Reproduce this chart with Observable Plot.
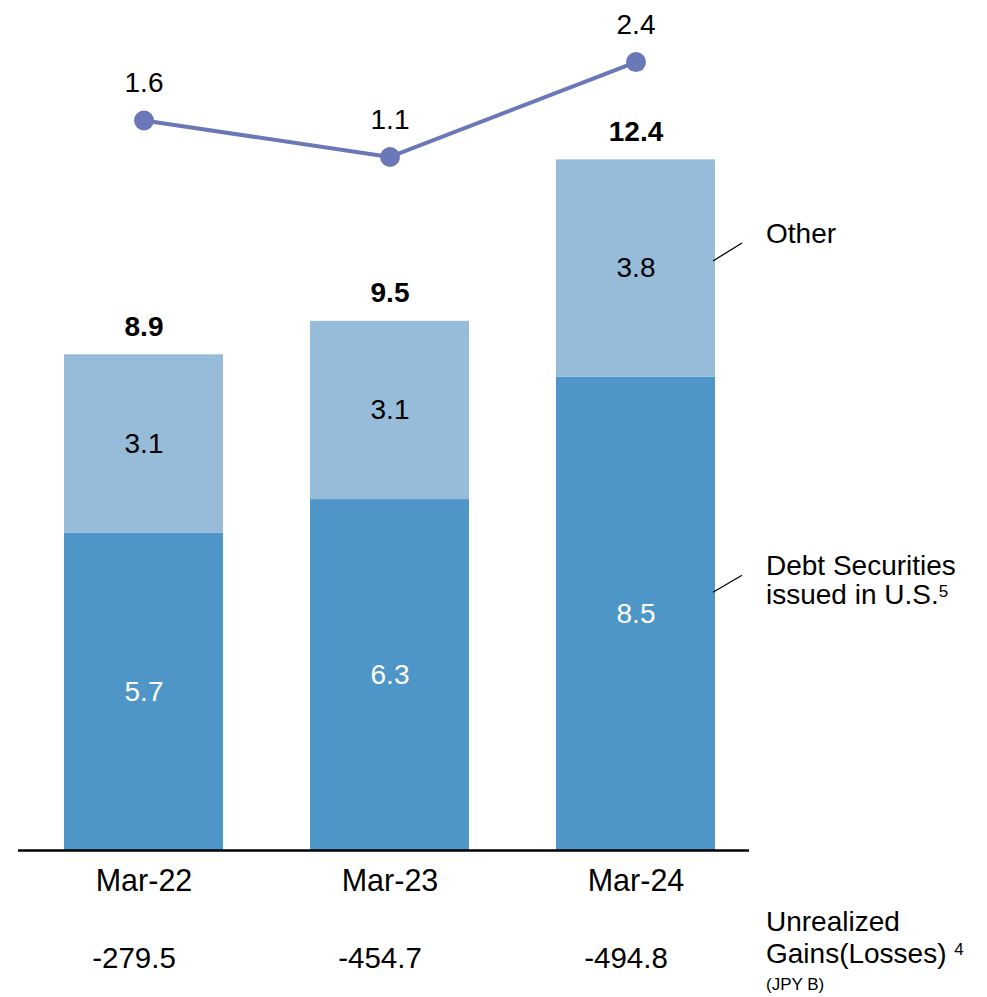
<!DOCTYPE html>
<html><head><meta charset="utf-8">
<script src="https://cdn.jsdelivr.net/npm/d3@7"></script>
<script src="https://cdn.jsdelivr.net/npm/@observablehq/plot@0.6"></script>
<style>
body{margin:0;background:#fff}
svg{font-family:"Liberation Sans",Arial,sans-serif}
</style>
</head><body><div id="chart"></div>
<script>
const periods = ["Mar-22", "Mar-23", "Mar-24"];
const debtUS = [5.7, 6.3, 8.5];
const other = [3.1, 3.1, 3.8];
const totals = [8.9, 9.5, 12.4];
const lineValues = [1.6, 1.1, 2.4];
const unrealized = ["-279.5", "-454.7", "-494.8"];
const seriesLabels = ["Other", "Debt Securities", "issued in U.S."];
const unrealizedLabel = ["Unrealized", "Gains(Losses)", "(JPY B)"];

const rows = periods.map((p, i) => ({period: p, debt: debtUS[i], other: other[i], total: totals[i], line: lineValues[i], unreal: unrealized[i]}));

const DEBT = "#4f96c8", OTHER = "#96bcd9", LINE = "#6b78b8";
// secondary axis for the line series, mapped onto the bar scale
const lineScale = d3.scaleLinear().domain([0, 1]).range([11.01, 12.32]);

const chart = Plot.plot({
  width: 987, height: 997,
  marginLeft: 18, marginRight: 238, marginTop: 0, marginBottom: 0,
  x: {domain: periods, range: [63, 715], paddingInner: 0.355, paddingOuter: 0, axis: null},
  y: {domain: [0, 15], range: [850, 14.5], axis: null},
  style: {fontFamily: '"Liberation Sans", Arial, sans-serif', fontSize: "28px", color: "#000", background: "#fff"},
  marks: [
    Plot.barY(rows, {x: "period", y1: 0, y2: "debt", fill: DEBT}),
    Plot.barY(rows, {x: "period", y1: "debt", y2: "total", fill: OTHER}),
    Plot.ruleY([0], {stroke: "#000", strokeWidth: 2.5}),
    Plot.text(rows, {x: "period", y: d => d.debt / 2, text: d => d.debt.toFixed(1), fill: "#fff", fontSize: 28}),
    Plot.text(rows, {x: "period", y: d => (d.debt + d.total) / 2, text: d => d.other.toFixed(1), fill: "#000", fontSize: 28}),
    Plot.text(rows, {x: "period", y: "total", text: d => d.total.toFixed(1), fontWeight: "bold", lineAnchor: "bottom", dy: -19, fontSize: 28, fill: "#000"}),
    Plot.line(rows, {x: "period", y: d => lineScale(d.line), stroke: LINE, strokeWidth: 4}),
    Plot.dot(rows, {x: "period", y: d => lineScale(d.line), r: 10, fill: LINE}),
    Plot.text(rows, {x: "period", y: d => lineScale(d.line), text: d => d.line.toFixed(1), lineAnchor: "bottom", dy: -28, fontSize: 28, fill: "#000"}),
    Plot.text(periods, {x: d => d, y: 0, text: d => d, lineAnchor: "top", dy: 19, fontSize: 30.5, fill: "#000"}),
    Plot.text(rows, {x: "period", y: 0, text: "unreal", lineAnchor: "top", dy: 97, dx: -10, fontSize: 29.5, fill: "#000"})
  ]
});

document.getElementById("chart").appendChild(chart);

// annotations using the chart's own scales
const sx = chart.scale("x"), sy = chart.scale("y");
const svg = d3.select(chart);
const last = rows[rows.length - 1];
const R = sx.apply(last.period) + sx.bandwidth;
const yOther = sy.apply((last.debt + last.total) / 2);
const yDebt = sy.apply(last.debt / 2);
const y0 = sy.apply(0);
const g = svg.append("g").attr("fill", "#000").attr("text-anchor", "start")
  .attr("font-family", '"Liberation Sans", Arial, sans-serif');

g.append("line").attr("x1", R - 2).attr("y1", yOther - 7).attr("x2", R + 27).attr("y2", yOther - 25).attr("stroke", "#000").attr("stroke-width", 1.3);
g.append("text").attr("x", R + 51).attr("y", yOther - 25).attr("font-size", 28).text(seriesLabels[0]);

g.append("line").attr("x1", R - 2).attr("y1", yDebt - 21).attr("x2", R + 27).attr("y2", yDebt - 38).attr("stroke", "#000").attr("stroke-width", 1.3);
g.append("text").attr("x", R + 51).attr("y", yDebt - 38).attr("font-size", 28).text(seriesLabels[1]);
const t2 = g.append("text").attr("x", R + 51).attr("y", yDebt - 9).attr("font-size", 28);
t2.append("tspan").text(seriesLabels[2]);
t2.append("tspan").attr("font-size", 17).attr("dy", -7).text("5");

g.append("text").attr("x", R + 51).attr("y", y0 + 81).attr("font-size", 28).text(unrealizedLabel[0]);
const t3 = g.append("text").attr("x", R + 51).attr("y", y0 + 113).attr("font-size", 28);
t3.append("tspan").text(unrealizedLabel[1] + " ");
t3.append("tspan").attr("font-size", 17).attr("dy", -8).text("4");
g.append("text").attr("x", R + 51).attr("y", y0 + 140).attr("font-size", 17).text(unrealizedLabel[2]);
</script>
</body></html>
